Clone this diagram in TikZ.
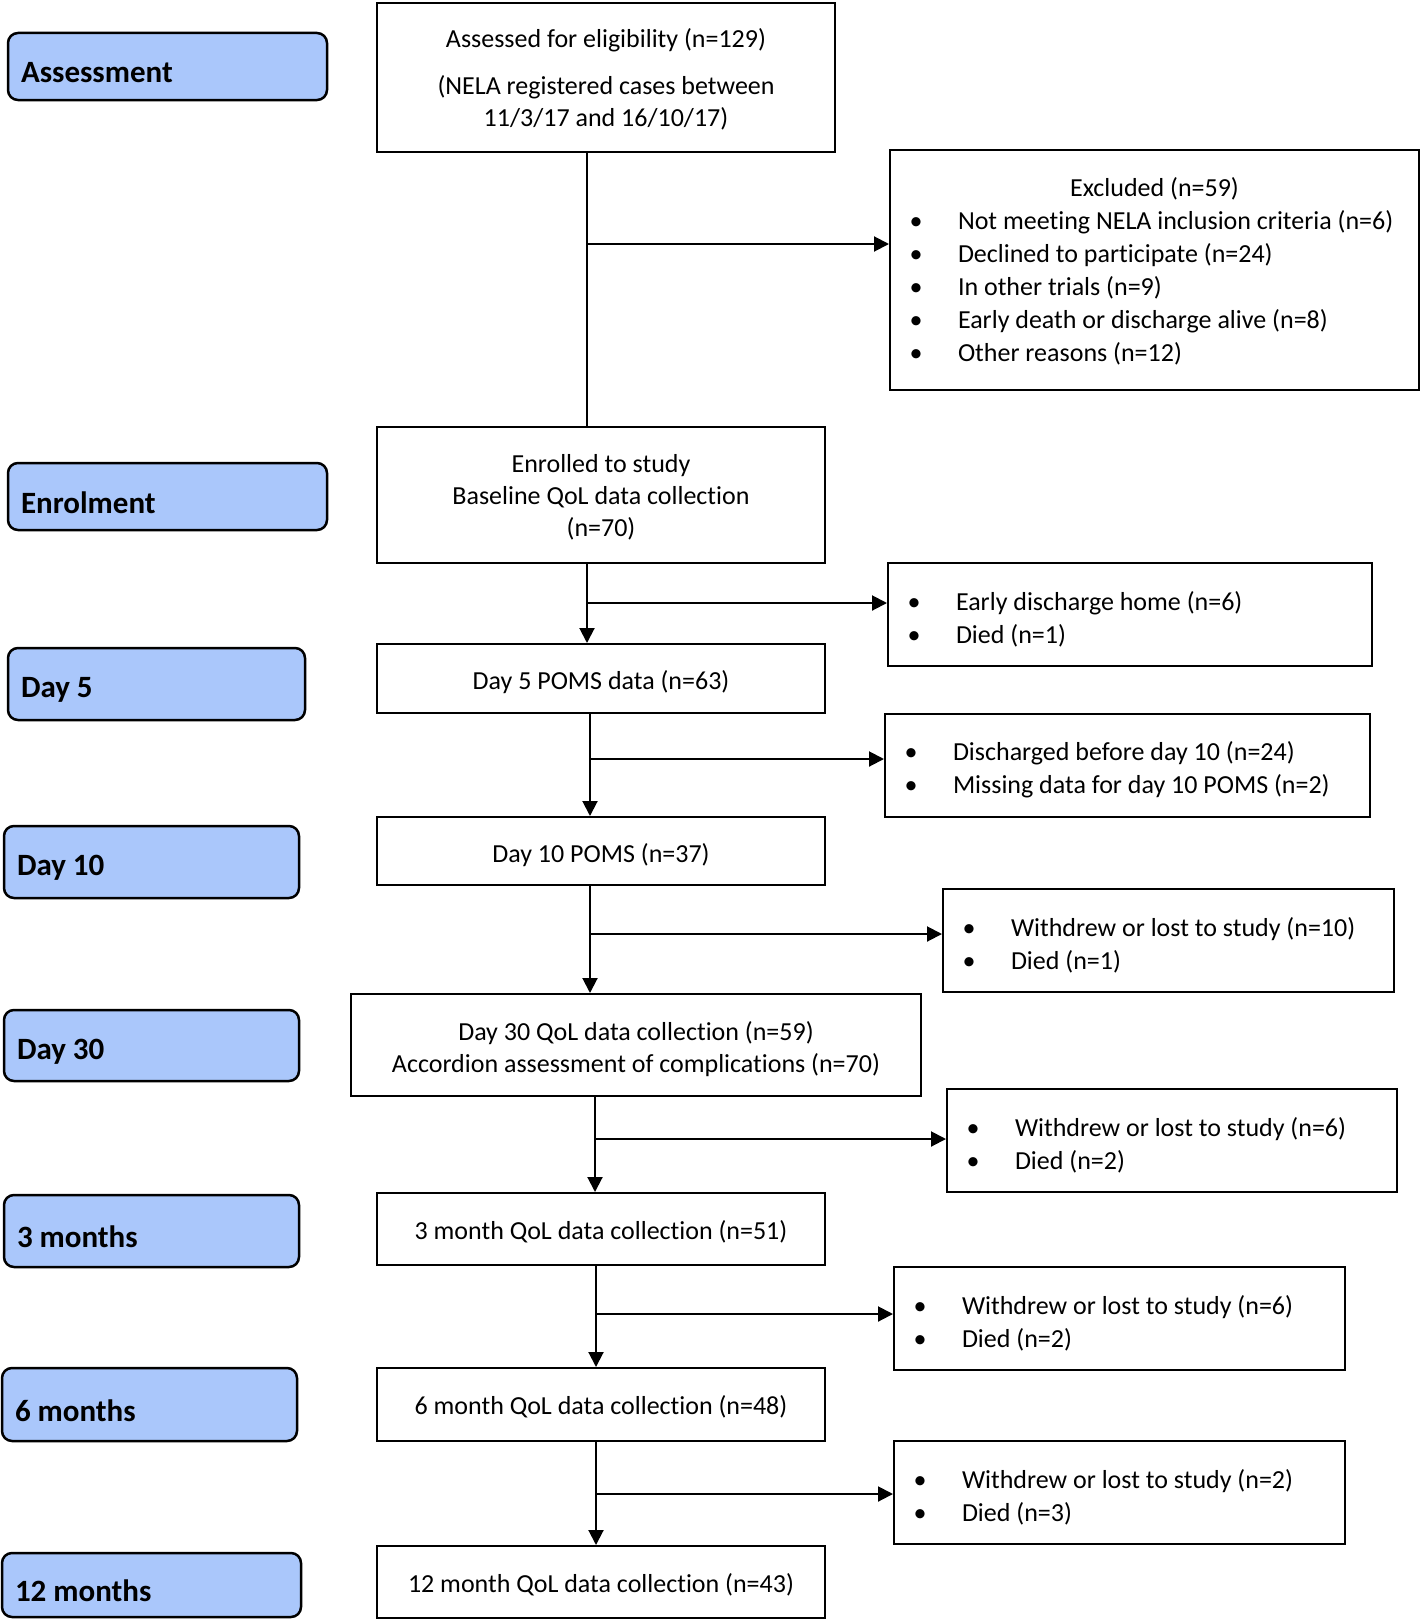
\documentclass[tikz,border=0pt]{standalone}
\usepackage{fontspec}
\setmainfont{Carlito}[Ligatures=NoCommon]
\usetikzlibrary{arrows.meta}
\definecolor{labblue}{RGB}{170,199,251}
\newcommand{\lo}[2][3pt]{\raisebox{-#1}[\height][\depth]{#2}}
\newcommand{\bl}[2][4.5pt]{\lo[#1]{\makebox[68pt][l]{\hspace{26pt}\makebox[0pt][c]{\textbullet}}#2}}
\tikzset{
  mainbox/.style={draw, line width=2pt, rectangle, inner sep=0pt, align=center,
    font=\fontsize{26}{32}\selectfont},
  sidebox/.style={draw, line width=2pt, rectangle, inner xsep=0pt, inner ysep=0pt, align=flush left,
    font=\fontsize{26}{33}\selectfont},
  phase/.style={draw, line width=2.5pt, rectangle, rounded corners=10pt, fill=labblue,
    inner xsep=13pt, inner ysep=0pt, align=flush left, font=\fontsize{31}{36}\selectfont\bfseries},
  conn/.style={line width=2pt},
  arr/.style={line width=2pt, -{Triangle[length=15pt,width=15pt]}},
}
\begin{document}
\begin{tikzpicture}[x=1pt,y=-1pt]
\useasboundingbox (0,0) rectangle (1420,1619);

% phase labels
\node[phase, minimum width=319, minimum height=67, text width=293] (lab1) at (167.5,66.5) {\lo[6pt]{Assessment}};
\node[phase, minimum width=319, minimum height=67, text width=293] (lab2) at (167.5,496.5) {\lo[6pt]{Enrolment}};
\node[phase, minimum width=297, minimum height=72, text width=271] (lab3) at (156.5,684) {\lo[6pt]{Day 5}};
\node[phase, minimum width=295, minimum height=72, text width=269] (lab4) at (151.5,862) {\lo[6pt]{Day 10}};
\node[phase, minimum width=295, minimum height=71, text width=269] (lab5) at (151.5,1045.5) {\lo[6pt]{Day 30}};
\node[phase, minimum width=295, minimum height=72, text width=269] (lab6) at (151.5,1231) {\lo[6pt]{3 months}};
\node[phase, minimum width=295, minimum height=73, text width=269] (lab7) at (149.5,1404.5) {\lo[6pt]{6 months}};
\node[phase, minimum width=299, minimum height=64, text width=273] (lab8) at (151.5,1585) {\lo[6pt]{12 months}};

% main boxes
\node[mainbox, minimum width=458, minimum height=149] (assess) at (606,77.5)
  {\lo[2pt]{Assessed for eligibility (n=129)}\\[15pt]\lo[2pt]{(NELA registered cases between}\\\lo[2pt]{11/3/17 and 16/10/17)}};
\node[mainbox, minimum width=448, minimum height=136] (enrol) at (601,495)
  {\lo[2.5pt]{Enrolled to study}\\\lo[2.5pt]{Baseline QoL data collection}\\\lo[2.5pt]{(n=70)}};
\node[mainbox, minimum width=448, minimum height=69] (d5) at (601,678.5) {\lo[4pt]{Day 5 POMS data (n=63)}};
\node[mainbox, minimum width=448, minimum height=68] (d10) at (601,851) {\lo[4pt]{Day 10 POMS (n=37)}};
\node[mainbox, minimum width=570, minimum height=102] (d30) at (636,1045)
  {\lo[4.5pt]{Day 30 QoL data collection (n=59)}\\\lo[4.5pt]{Accordion assessment of complications (n=70)}};
\node[mainbox, minimum width=448, minimum height=72] (m3) at (601,1229) {\lo[2.5pt]{3 month QoL data collection (n=51)}};
\node[mainbox, minimum width=448, minimum height=73] (m6) at (601,1404.5) {\lo[2.5pt]{6 month QoL data collection (n=48)}};
\node[mainbox, minimum width=448, minimum height=72] (m12) at (601,1582) {\lo[2.5pt]{12 month QoL data collection (n=43)}};

% side boxes
\node[sidebox, minimum width=529, minimum height=240, text width=529] (excl) at (1154.5,270)
  {\lo[1pt]{\makebox[529pt]{Excluded (n=59)}}\\
   \bl[1pt]{Not meeting NELA inclusion criteria (n=6)}\\
   \bl[1pt]{Declined to participate (n=24)}\\
   \bl[1pt]{In other trials (n=9)}\\
   \bl[1pt]{Early death or discharge alive (n=8)}\\
   \bl[1pt]{Other reasons (n=12)}};
\node[sidebox, minimum width=484, minimum height=103, text width=484] (ed) at (1130,614.5)
  {\bl{Early discharge home (n=6)}\\\bl{Died (n=1)}};
\node[sidebox, minimum width=485, minimum height=103, text width=485] (dis) at (1127.5,765.5)
  {\bl{Discharged before day 10 (n=24)}\\\bl{Missing data for day 10 POMS (n=2)}};
\node[sidebox, minimum width=451, minimum height=103, text width=451] (w10) at (1168.5,940.5)
  {\bl{Withdrew or lost to study (n=10)}\\\bl{Died (n=1)}};
\node[sidebox, minimum width=450, minimum height=103, text width=450] (w6a) at (1172,1140.5)
  {\bl{Withdrew or lost to study (n=6)}\\\bl{Died (n=2)}};
\node[sidebox, minimum width=451, minimum height=103, text width=451] (w6b) at (1119.5,1318.5)
  {\bl{Withdrew or lost to study (n=6)}\\\bl{Died (n=2)}};
\node[sidebox, minimum width=451, minimum height=103, text width=451] (w2) at (1119.5,1492.5)
  {\bl{Withdrew or lost to study (n=2)}\\\bl{Died (n=3)}};

% branch points
\coordinate (c1) at (587,244);
\coordinate (c2) at (587,603);
\coordinate (c3) at (590,759);
\coordinate (c4) at (590,934);
\coordinate (c5) at (595,1139);
\coordinate (c6) at (596,1314);
\coordinate (c7) at (596,1494);

% connectors
\draw[conn] (assess.south -| c1) -- (enrol.north -| c1);
\draw[arr] (c1) -- (excl.west |- c1);
\draw[arr] (enrol.south -| c2) -- (d5.north -| c2);
\draw[arr] (c2) -- (ed.west |- c2);
\draw[arr] (d5.south -| c3) -- (d10.north -| c3);
\draw[arr] (c3) -- (dis.west |- c3);
\draw[arr] (d10.south -| c4) -- (d30.north -| c4);
\draw[arr] (c4) -- (w10.west |- c4);
\draw[arr] (d30.south -| c5) -- (m3.north -| c5);
\draw[arr] (c5) -- (w6a.west |- c5);
\draw[arr] (m3.south -| c6) -- (m6.north -| c6);
\draw[arr] (c6) -- (w6b.west |- c6);
\draw[arr] (m6.south -| c7) -- (m12.north -| c7);
\draw[arr] (c7) -- (w2.west |- c7);
\end{tikzpicture}
\end{document}
